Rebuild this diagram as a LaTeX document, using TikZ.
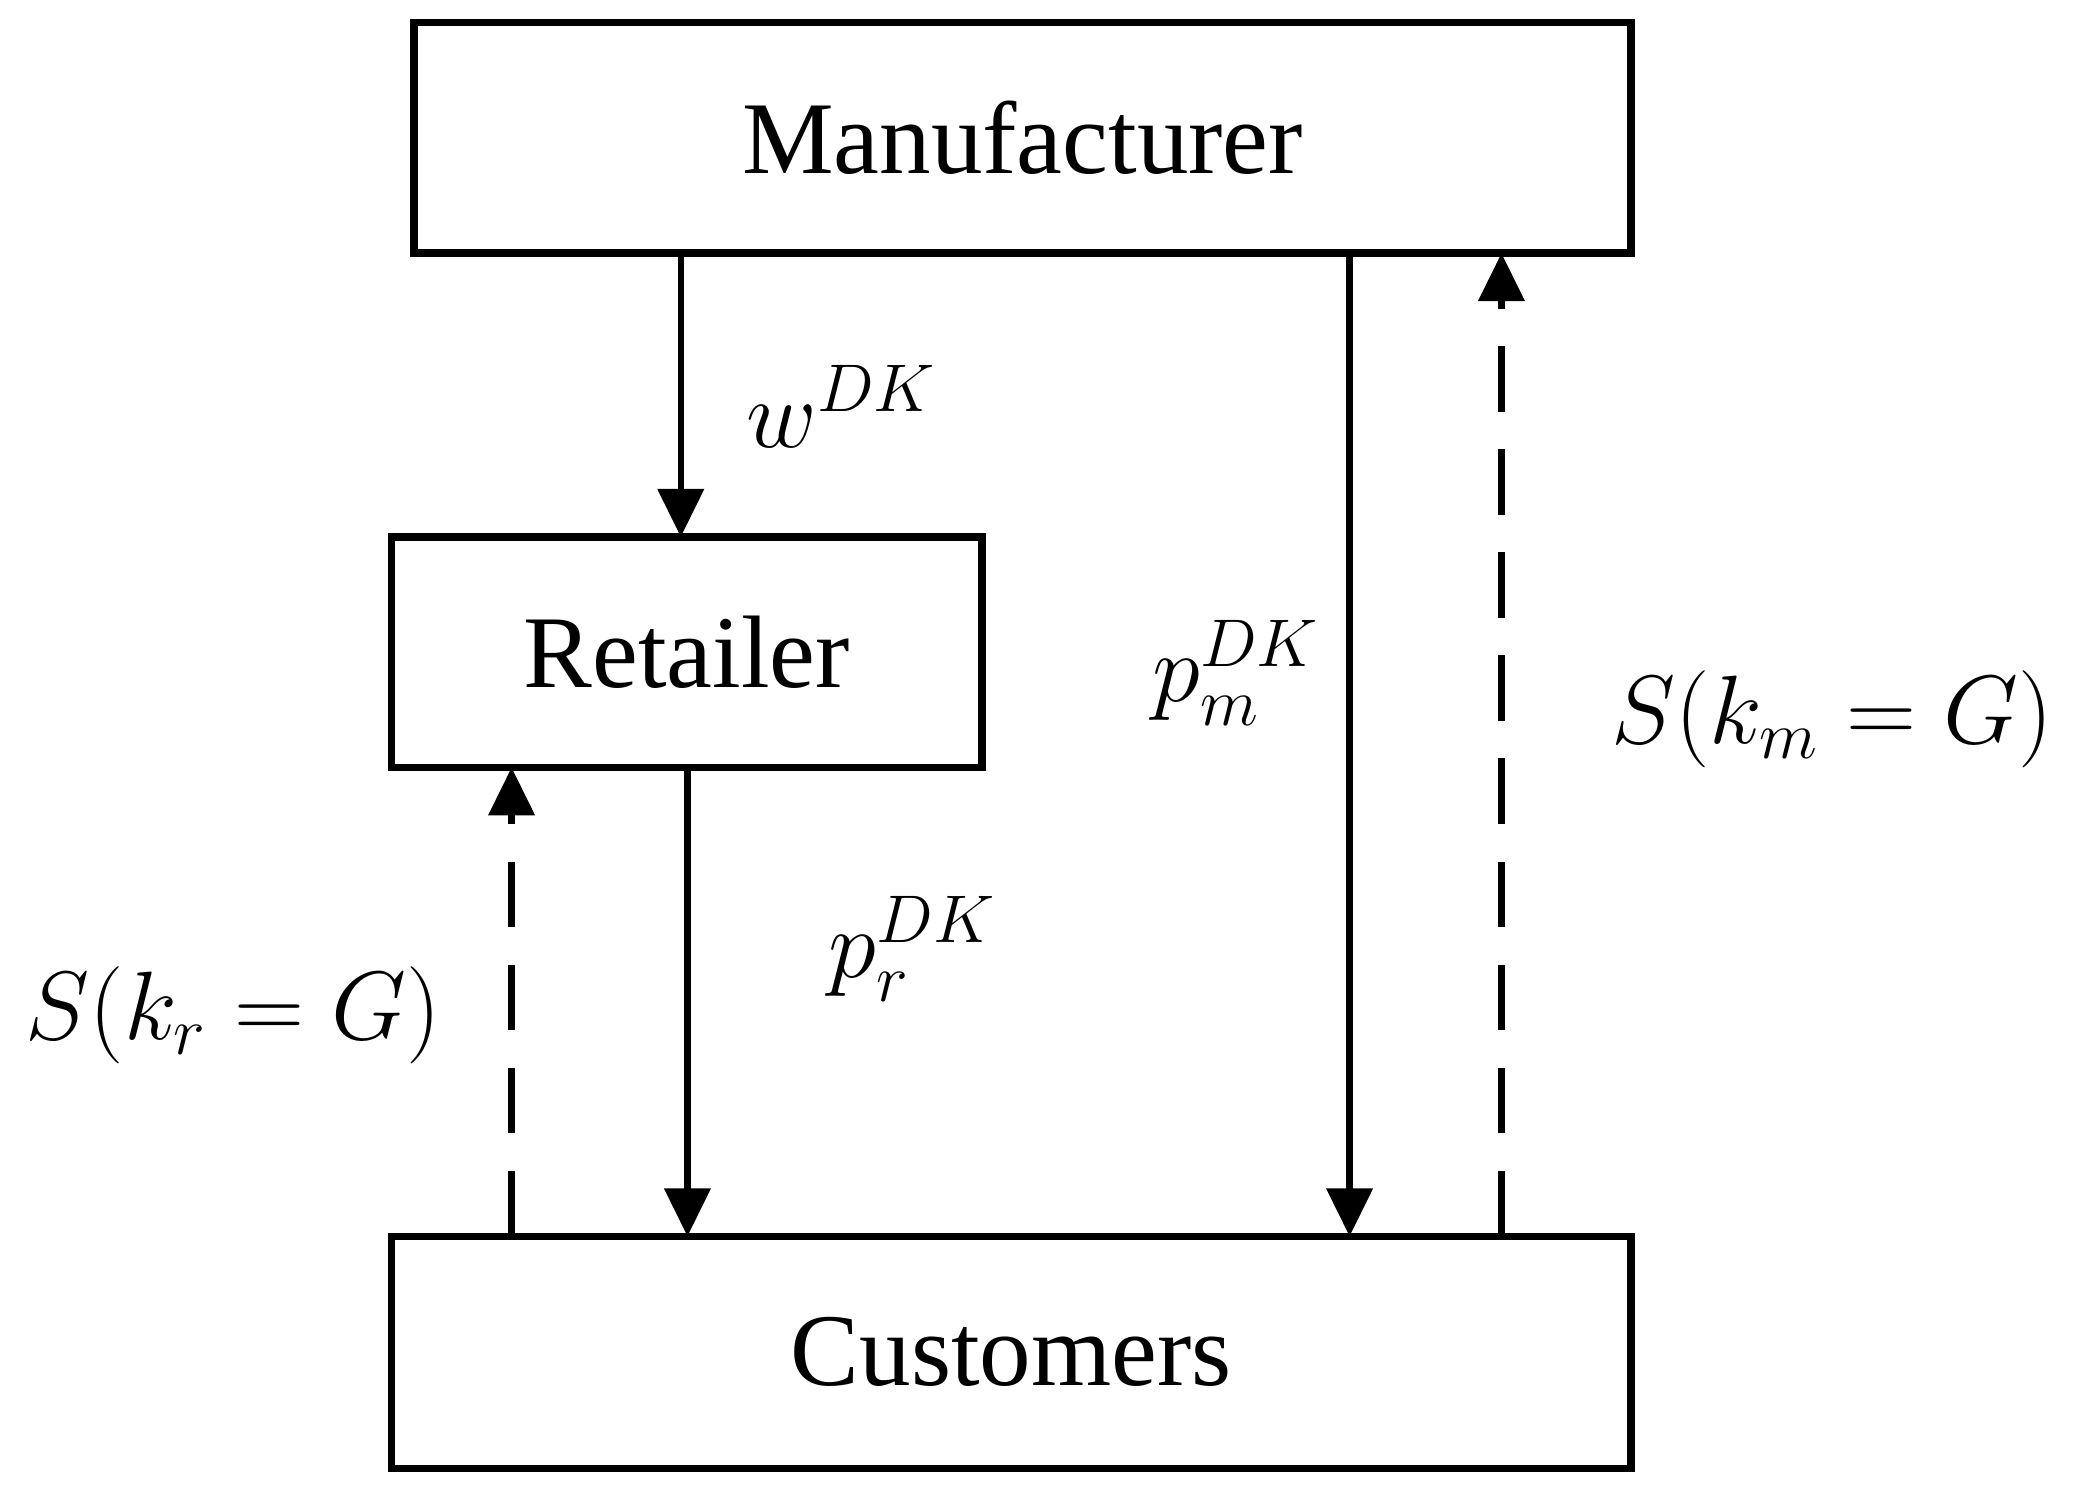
\documentclass[tikz,border=0pt]{standalone}
\usepackage{fontspec}
\setmainfont{Liberation Serif}
\usetikzlibrary{arrows.meta}
\begin{document}
\begin{tikzpicture}[x=0.01cm,y=-0.01cm,
  box/.style={draw,line width=1.6pt,inner sep=0pt,font=\fontsize{22}{26}\selectfont},
  arr/.style={line width=1.4pt,-{Triangle[width=0.34cm,length=0.36cm]}},
  lbl/.style={font=\fontsize{22}{26}\selectfont}]
\useasboundingbox (0,0) rectangle (1568,1120);
\node[box,minimum width=9.13cm,minimum height=1.73cm] (man) at (767.5,103.5) {Manufacturer};
\node[box,minimum width=4.43cm,minimum height=1.73cm] (ret) at (515.5,489.5) {Retailer};
\node[box,minimum width=9.30cm,minimum height=1.74cm] (cus) at (759,1015) {Customers};
\coordinate (a1) at (511,190); \coordinate (a2) at (511,403);
\coordinate (b1) at (516,576); \coordinate (b2) at (516,928);
\coordinate (c1) at (384,928); \coordinate (c2) at (384,576);
\coordinate (d1) at (1013,190); \coordinate (d2) at (1013,928);
\coordinate (e1) at (1127,928); \coordinate (e2) at (1127,190);
\draw[arr] (a1) -- (a2);
\draw[arr] (b1) -- (b2);
\draw[arr,dashed,dash pattern=on 14pt off 8pt] (c1) -- (c2);
\draw[arr] (d1) -- (d2);
\draw[arr,dashed,dash pattern=on 14pt off 8pt] (e1) -- (e2);
\node[lbl] (lw) at (632,305) {$w^{DK}$};
\node[lbl] (lr) at (685,712) {$p_r^{DK}$};
\node[lbl] (lm) at (928,505) {$p_m^{DK}$};
\node[lbl] (lkr) at (175,762) {$S(k_r=G)$};
\node[lbl] (lkm) at (1375,540) {$S(k_m=G)$};
\end{tikzpicture}
\end{document}
